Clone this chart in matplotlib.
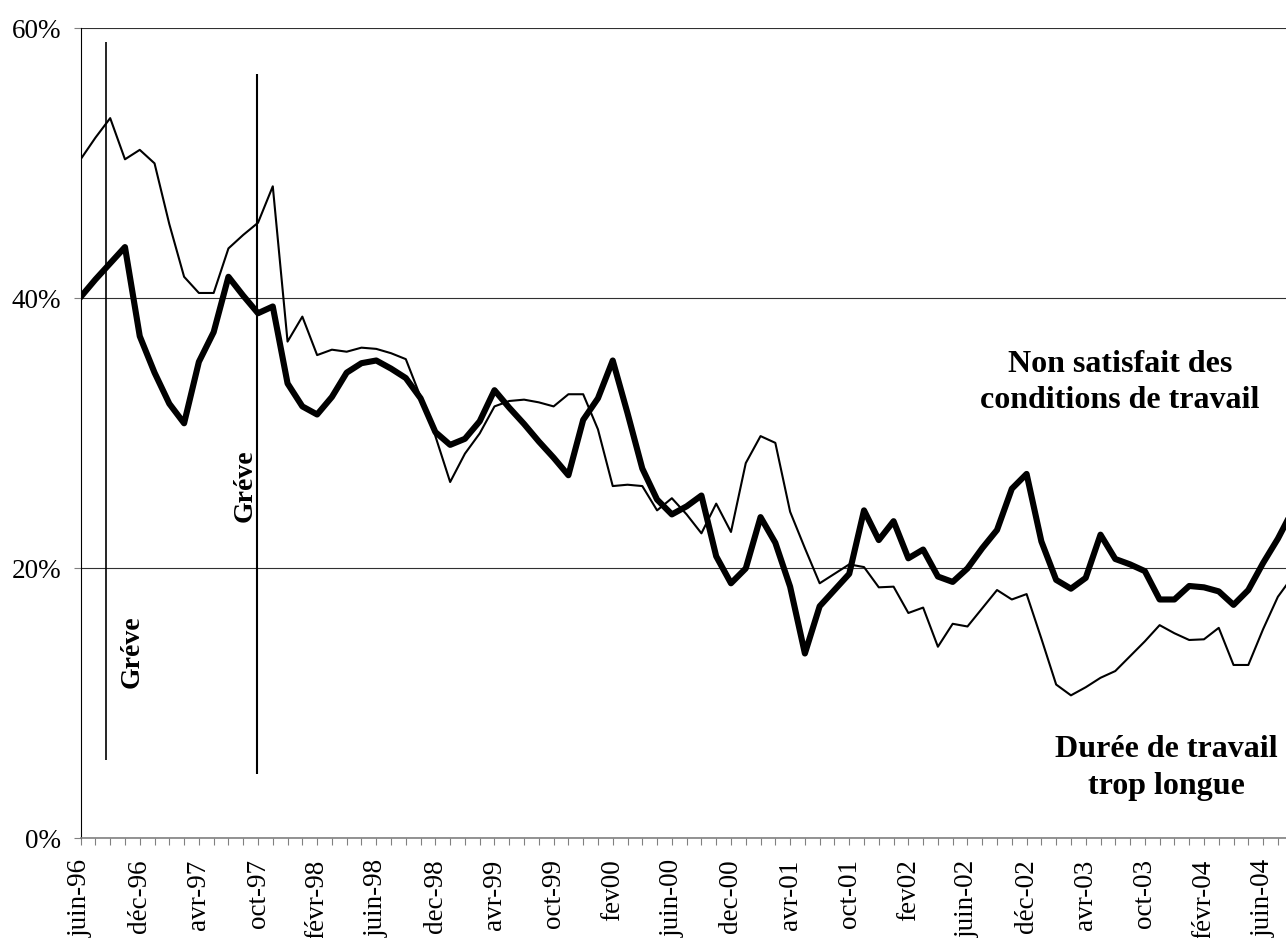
import matplotlib
matplotlib.use("Agg")
import matplotlib.pyplot as plt

plt.rcParams['font.family'] = ['Liberation Serif', 'DejaVu Serif']

# --- data (values in %) ---
# one point per survey wave, labels every 4th wave
tick_labels = ["juin-96", "déc-96", "avr-97", "oct-97", "févr-98", "juin-98",
               "dec-98", "avr-99", "oct-99", "fev00", "juin-00", "dec-00",
               "avr-01", "oct-01", "fev02", "juin-02", "déc-02", "avr-03",
               "oct-03", "févr-04", "juin-04"]

non_satisfait = [40.1, 41.4, 42.6, 43.8, 37.2, 34.5, 32.2, 30.75, 35.3, 37.5,
                 41.6, 40.2, 38.9, 39.4, 33.7, 32.0, 31.4, 32.7, 34.5, 35.2,
                 35.4, 34.8, 34.1, 32.6, 30.1, 29.15, 29.6, 30.9, 33.2, 31.9,
                 30.7, 29.4, 28.2, 26.9, 31.0, 32.6, 35.4, 31.5, 27.4, 25.1,
                 24.0, 24.6, 25.4, 20.9, 18.9, 20.0, 23.8, 21.9, 18.65, 13.7,
                 17.2, 18.4, 19.6, 24.3, 22.1, 23.5, 20.75, 21.4, 19.4, 19.0,
                 20.0, 21.5, 22.85, 25.9, 27.0, 22.0, 19.15, 18.5, 19.3, 22.5,
                 20.7, 20.3, 19.8, 17.7, 17.7, 18.7, 18.6, 18.3, 17.3, 18.4,
                 20.4, 22.2, 24.3]

duree_trop_longue = [50.3, 51.9, 53.35, 50.3, 51.0, 50.0, 45.5, 41.6, 40.4, 40.4,
                     43.7, 44.7, 45.6, 48.3, 36.8, 38.65, 35.8, 36.2, 36.05, 36.35,
                     36.26, 35.94, 35.5, 32.7, 29.8, 26.4, 28.5, 30.0, 32.0, 32.4,
                     32.5, 32.3, 32.0, 32.9, 32.9, 30.3, 26.1, 26.2, 26.1, 24.3,
                     25.2, 24.0, 22.6, 24.8, 22.7, 27.8, 29.8, 29.3, 24.2, 21.5,
                     18.9, 19.6, 20.3, 20.1, 18.6, 18.65, 16.7, 17.1, 14.2, 15.9,
                     15.7, 17.05, 18.4, 17.7, 18.1, 14.8, 11.4, 10.6, 11.2, 11.9,
                     12.4, 13.5, 14.6, 15.8, 15.2, 14.7, 14.75, 15.6, 12.85, 12.85,
                     15.5, 17.9, 19.4]

# strike markers (wave position, top, bottom)
greve_x = [1.73, 11.91]
greve_top = [59.0, 56.6]
greve_bottom = [5.8, 4.8]

x = list(range(len(non_satisfait)))

fig = plt.figure(figsize=(12.86, 9.38), dpi=100)
ax = fig.add_axes([0.0627, 0.1061, 0.9373, 0.8637])

ax.plot(x, duree_trop_longue, color='black', linewidth=1.5, clip_on=True)
ax.plot(x, non_satisfait, color='black', linewidth=4.4,
        solid_joinstyle='round', clip_on=True)

ax.vlines(greve_x[0], greve_bottom[0], greve_top[0], color='black', linewidth=1.2)
ax.vlines(greve_x[1], greve_bottom[1], greve_top[1], color='black', linewidth=1.5)

ax.set_xlim(0, 81.55)
ax.set_ylim(0, 60)

# y axis
ax.set_yticks([0, 20, 40, 60])
ax.set_yticklabels(["0%", "20%", "40%", "60%"])
ax.yaxis.grid(True, color='#303030', linewidth=0.8)
ax.set_axisbelow(True)

# x axis: a tick per wave, label every 4th
ax.set_xticks(x[:82])
labels = [""] * 82
for k, lab in enumerate(tick_labels):
    labels[k * 4] = lab
ax.set_xticklabels(labels, rotation=90)

ax.tick_params(axis='both', direction='out', length=5, width=0.8,
               color='#808080', labelsize=19.5, pad=9)
ax.tick_params(axis='x', pad=10)

for side in ['top', 'right']:
    ax.spines[side].set_visible(False)
ax.spines['left'].set_color('black')
ax.spines['left'].set_linewidth(0.8)
ax.spines['bottom'].set_color('#808080')
ax.spines['bottom'].set_linewidth(1.2)

# annotations
ax.text(3.49, 13.8, "Gréve", rotation=90, fontsize=20, fontweight='bold',
        ha='center', va='center')
ax.text(11.12, 26.1, "Gréve", rotation=90, fontsize=20, fontweight='bold',
        ha='center', va='center')

ax.text(70.32, 34.56, "Non satisfait des", fontsize=23, fontweight='bold',
        ha='center', va='baseline')
ax.text(70.32, 31.87, "conditions de travail", fontsize=23, fontweight='bold',
        ha='center', va='baseline')
ax.text(73.46, 6.0, "Durée de travail", fontsize=23, fontweight='bold',
        ha='center', va='baseline')
ax.text(73.46, 3.3, "trop longue", fontsize=23, fontweight='bold',
        ha='center', va='baseline')

fig.savefig("out.png", dpi=100)
